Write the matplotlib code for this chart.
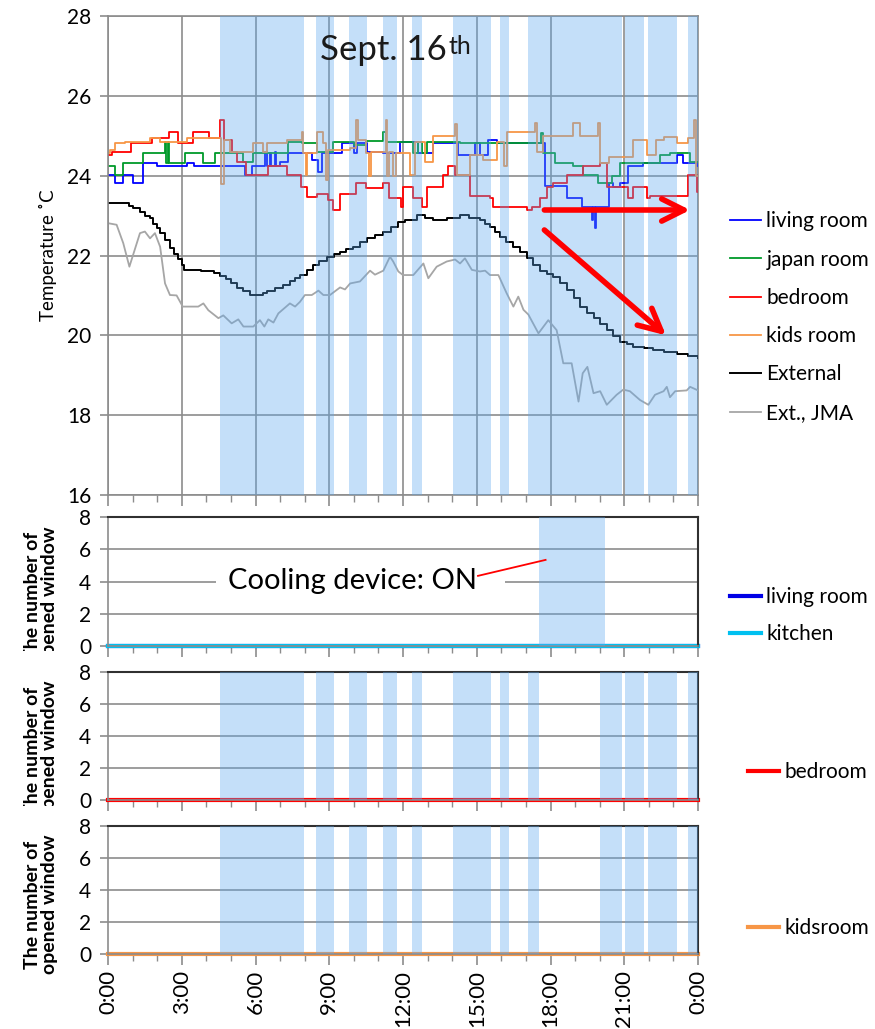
import matplotlib
matplotlib.use('Agg')
import matplotlib.pyplot as plt
from matplotlib.transforms import Bbox, TransformedBbox
from matplotlib.ticker import MultipleLocator
from matplotlib.patches import Rectangle

plt.rcParams['font.family'] = ['Lato', 'DejaVu Sans']

# ---------------- data (hours since 0:00, values) ----------------
living_t = [0, 0.29, 0.62, 1.03, 1.44, 1.98, 3.2, 3.5, 5.57, 5.84, 6.39, 6.45, 6.6, 6.65, 6.8, 6.85, 7.0, 7.34,
            8.3, 8.56, 8.7, 9.5, 10.0, 10.12, 10.52, 11.2, 11.88, 12.63, 13.24, 14.25, 14.93, 15.13, 15.47,
            15.81, 17.78, 18.66, 19.27, 19.68, 19.72, 19.8, 19.86, 20.36, 20.56, 20.83, 21.17, 21.78, 23.13,
            23.4, 23.95, 24.0]
living_v = [24.02, 23.81, 24.02, 23.81, 24.31, 24.23, 24.31, 24.23, 24.02, 24.23, 24.6, 24.23, 24.56, 24.23, 24.6,
            24.23, 24.35, 24.56, 24.4, 24.1, 24.56, 24.81, 24.56, 24.81, 24.6, 24.56, 24.85, 24.56, 24.81, 24.52,
            24.81, 24.52, 24.89, 24.81, 23.75, 23.43, 23.22, 22.9, 23.22, 22.7, 23.22, 23.81, 23.72, 23.81, 24.23,
            24.31, 24.52, 24.31, 24.23, 24.23]

japan_t = [0, 0.3, 0.6, 1.44, 2.3, 2.35, 2.45, 2.5, 3.13, 3.88, 4.35, 5.51, 5.91, 7.34, 7.88, 8.5, 9.17, 10.0,
           10.5, 11.2, 11.3, 12.42, 12.63, 12.76, 12.96, 14.3, 17.6, 17.71, 18.19, 18.93, 19.34, 19.95, 20.5,
           20.83, 22.45, 22.86, 23.68, 24.0]
japan_v = [24.23, 24.02, 24.31, 24.56, 24.85, 24.31, 24.85, 24.31, 24.56, 24.31, 24.56, 24.35, 24.56, 24.85, 24.81,
           24.6, 24.85, 24.78, 24.88, 25.1, 24.85, 24.56, 24.85, 24.56, 24.85, 24.81, 25.08, 24.56, 24.31, 24.23,
           24.02, 23.81, 24.0, 24.31, 24.52, 24.56, 24.35, 24.35]

bed_t = [0, 0.15, 0.95, 1.8, 2.5, 2.85, 3.45, 4.1, 4.55, 4.7, 5.05, 5.25, 5.6, 6.5, 7.3, 7.85, 8.1, 8.5, 8.95,
         9.15, 9.45, 10.1, 10.5, 11.2, 11.45, 11.9, 12.02, 12.42, 12.76, 12.96, 13.64, 13.84, 14.12, 14.73,
         15.54, 15.67, 17.03, 17.24, 17.57, 17.85, 18.12, 18.66, 19.34, 20.02, 20.29, 21.17, 21.37, 21.91,
         22.05, 23.61, 23.95, 24.0]
bed_v = [24.52, 24.6, 24.81, 24.94, 25.1, 24.81, 25.1, 24.94, 25.39, 24.89, 24.6, 24.35, 24.02, 24.23, 24.02,
         23.72, 23.47, 23.55, 23.39, 23.14, 23.55, 23.81, 23.68, 23.81, 23.43, 23.22, 23.72, 23.43, 23.22, 23.72,
         24.02, 24.23, 24.02, 23.49, 23.43, 23.22, 23.14, 23.22, 23.43, 23.72, 23.81, 24.02, 24.23, 24.31, 23.72,
         23.43, 23.72, 23.43, 23.49, 24.02, 23.6, 23.6]

kids_t = [0, 0.08, 0.3, 0.7, 1.7, 2.1, 3.2, 4.6, 4.7, 4.95, 5.9, 6.3, 6.45, 7.3, 7.9, 7.95, 8.05, 8.1, 8.5,
          8.75, 8.85, 8.95, 9.85, 10.1, 10.15, 10.5, 10.6, 10.7, 11.3, 11.35, 11.45, 11.6, 11.7, 12.3, 12.5,
          12.9, 13.24, 14.1, 14.18, 14.73, 15.27, 15.81, 16.1, 16.22, 17.37, 17.45, 17.71, 18.93, 19.2, 19.95,
          20.02, 20.36, 21.37, 21.91, 22.3, 22.6, 23.13, 23.61, 23.85, 23.9, 24.0]
kids_v = [24.56, 24.64, 24.81, 24.85, 24.94, 24.85, 24.94, 23.8, 24.89, 24.6, 24.81, 24.6, 24.81, 24.89, 25.1,
          24.56, 24.02, 24.56, 25.1, 24.81, 23.9, 24.64, 24.7, 25.39, 24.89, 24.56, 24.0, 24.6, 25.39, 24.0, 24.6,
          24.0, 24.56, 24.02, 24.85, 24.35, 25.0, 25.3, 24.02, 24.52, 24.4, 24.85, 24.23, 25.1, 25.31, 24.6, 25.0,
          25.31, 25.0, 25.31, 24.31, 24.48, 24.89, 24.52, 24.89, 24.98, 24.81, 24.95, 25.39, 24.0, 24.0]

ext_t = [0, 0.7, 0.85, 1.03, 1.3, 1.5, 1.71, 1.85, 2.0, 2.12, 2.3, 2.52, 2.7, 2.85, 3.0, 3.1, 3.8, 4.3, 4.56,
         4.8, 5.0, 5.23, 5.5, 5.78, 6.12, 6.3, 6.45, 6.8, 7.13, 7.4, 7.6, 7.81, 8.1, 8.35, 8.6, 8.9, 9.2, 9.44,
         9.7, 9.98, 10.25, 10.52, 10.85, 11.2, 11.5, 11.81, 12.1, 12.56, 12.9, 13.24, 13.8, 14.32, 14.7, 15.13,
         15.35, 15.54, 15.75, 15.95, 16.2, 16.49, 16.75, 17.03, 17.3, 17.57, 17.85, 18.12, 18.4, 18.66, 18.95,
         19.2, 19.5, 19.75, 20.0, 20.29, 20.55, 20.83, 21.1, 21.37, 21.8, 22.18, 22.6, 23.13, 23.6, 24.0]
ext_v = [23.31, 23.31, 23.25, 23.18, 23.1, 23.0, 22.94, 22.8, 22.68, 22.56, 22.4, 22.19, 22.05, 21.9, 21.76, 21.64,
         21.6, 21.55, 21.49, 21.4, 21.3, 21.19, 21.1, 21.01, 21.0, 21.06, 21.12, 21.18, 21.26, 21.35, 21.43, 21.51,
         21.64, 21.76, 21.85, 21.97, 22.05, 22.1, 22.17, 22.22, 22.33, 22.43, 22.52, 22.6, 22.72, 22.85, 22.89,
         23.01, 22.95, 22.89, 22.93, 23.01, 22.95, 22.89, 22.8, 22.72, 22.6, 22.47, 22.35, 22.22, 22.08, 21.93,
         21.76, 21.6, 21.53, 21.47, 21.3, 21.14, 20.93, 20.72, 20.57, 20.43, 20.28, 20.13, 19.98, 19.84, 19.78,
         19.72, 19.68, 19.63, 19.58, 19.53, 19.47, 19.42]

jma_t = [0, 0.35, 0.62, 0.87, 1.3, 1.5, 1.71, 1.91, 2.12, 2.32, 2.52, 2.79, 3.04, 3.67, 3.88, 4.08, 4.49, 4.69,
         5.03, 5.3, 5.51, 5.91, 6.18, 6.36, 6.52, 6.73, 6.93, 7.4, 7.61, 7.81, 8.01, 8.29, 8.56, 8.76, 9.03, 9.44,
         9.64, 9.85, 10.25, 10.66, 10.86, 11.2, 11.47, 11.6, 11.81, 12.0, 12.42, 12.83, 13.03, 13.37, 13.78,
         14.12, 14.32, 14.52, 14.8, 15.13, 15.34, 15.54, 15.88, 16.22, 16.49, 16.69, 16.9, 17.1, 17.51, 17.91,
         18.25, 18.52, 18.86, 19.14, 19.31, 19.5, 19.75, 20.02, 20.29, 20.69, 20.96, 21.23, 21.64, 21.98, 22.25,
         22.6, 22.73, 22.86, 23.07, 23.54, 23.68, 24.0]
jma_v = [22.81, 22.77, 22.31, 21.72, 22.56, 22.6, 22.43, 22.56, 22.22, 21.3, 21.01, 21.0, 20.72, 20.72, 20.8, 20.63,
         20.43, 20.5, 20.3, 20.4, 20.22, 20.22, 20.38, 20.22, 20.4, 20.32, 20.55, 20.8, 20.72, 20.84, 21.01, 21.01,
         21.12, 21.01, 21.01, 21.2, 21.15, 21.3, 21.35, 21.62, 21.52, 21.62, 21.97, 21.85, 21.6, 21.51, 21.51, 21.8,
         21.43, 21.72, 21.85, 21.9, 21.8, 21.93, 21.64, 21.6, 21.62, 21.51, 21.51, 21.05, 20.72, 20.97, 20.64,
         20.52, 20.05, 20.38, 20.13, 19.3, 19.3, 18.34, 19.05, 19.21, 18.55, 18.6, 18.26, 18.51, 18.64, 18.6,
         18.38, 18.26, 18.51, 18.6, 18.71, 18.45, 18.6, 18.62, 18.71, 18.62]

# shaded periods (hours)
open_start = [4.55, 8.45, 9.8, 11.17, 12.35, 14.05, 15.93, 17.1, 20.03, 21.05, 21.98, 23.6]
open_end = [7.97, 9.19, 10.53, 11.75, 12.76, 15.56, 16.33, 17.52, 20.92, 21.79, 23.13, 24.0]
cooling_start = [17.52]
cooling_end = [20.2]

# window counts (all zero)
win_t = [0, 24]
win_living = [0, 0]
win_kitchen = [0, 0]
win_bedroom = [0, 0]
win_kids = [0, 0]

hour_labels = ['0:00', '3:00', '6:00', '9:00', '12:00', '15:00', '18:00', '21:00', '0:00']

# ---------------- styling ----------------
W, H = 875, 1029
fig = plt.figure(figsize=(W / 100, H / 100), dpi=100)


def frame(l, t, r, b):
    return [l / W, 1 - b / H, (r - l) / W, (b - t) / H]


GRID = '#8c8c8c'
SHADE = '#5ca8f0'
SHADE_A = 0.36
TICK_FS = 15


def merge(starts, ends):
    iv = sorted(zip(starts, ends))
    out = []
    for s, e in iv:
        if out and s <= out[-1][1] + 1e-9:
            out[-1][1] = max(out[-1][1], e)
        else:
            out.append([s, e])
    return out


def xaxis_setup(a, labels):
    a.set_xlim(0, 24)
    a.xaxis.set_major_locator(MultipleLocator(3))
    a.xaxis.set_minor_locator(MultipleLocator(1))
    a.tick_params(axis='x', which='major', length=8, width=1.2, color=GRID, direction='out')
    a.tick_params(axis='x', which='minor', length=5, width=1.0, color=GRID, direction='out')
    if labels:
        a.set_xticks(range(0, 25, 3))
        a.set_xticklabels(hour_labels, rotation=90, fontsize=16)
    else:
        a.tick_params(axis='x', labelbottom=False)


# ---- top panel ----
ax = fig.add_axes(frame(108, 16, 698, 495))
ax.set_ylim(16, 28)
xaxis_setup(ax, False)
ax.yaxis.set_major_locator(MultipleLocator(2))
ax.tick_params(axis='y', length=6, width=1.2, color=GRID, labelsize=TICK_FS, pad=6)
ax.grid(True, which='major', color=GRID, lw=1.2)
ax.set_axisbelow(True)
for s in ['top', 'right']:
    ax.spines[s].set_visible(False)
for s in ['left', 'bottom']:
    ax.spines[s].set_color(GRID)
    ax.spines[s].set_linewidth(1.2)
ax.plot([0, 24], [28, 28], color=GRID, lw=1.2, zorder=1, clip_on=False)
ax.plot([24, 24], [16, 28], color=GRID, lw=1.2, zorder=1, clip_on=False)

l1, = ax.step(living_t, living_v, where='post', color='#0000ff', lw=1.3, label='living room', zorder=2)
l2, = ax.step(japan_t, japan_v, where='post', color='#009a2a', lw=1.3, label='japan room', zorder=2)
l3, = ax.step(bed_t, bed_v, where='post', color='#ff0000', lw=1.3, label='bedroom', zorder=2)
l4, = ax.step(kids_t, kids_v, where='post', color='#f79646', lw=1.3, label='kids room', zorder=2)
l5, = ax.step(ext_t, ext_v, where='post', color='#000000', lw=1.4, label='External', zorder=2)
l6, = ax.plot(jma_t, jma_v, color='#a6a6a6', lw=1.3, label='Ext., JMA', zorder=2)

for s, e in merge(open_start + cooling_start, open_end + cooling_end):
    ax.axvspan(s, e, color=SHADE, alpha=SHADE_A, lw=0, zorder=3)

ax.set_ylabel('Temperature \u02daC', fontsize=13.5)
ax.yaxis.set_label_coords(-0.087, 0.5)

t1 = ax.text(11.2, 27.15, 'Sept. 16', fontsize=25, ha='center', va='center', color='#1a1a1a', zorder=5)
ax.annotate('th', xy=(1, 1), xycoords=t1, xytext=(1, -1), textcoords='offset points',
            fontsize=18, ha='left', va='top', color='#1a1a1a', zorder=5)

arrow_kw = dict(arrowstyle='->,head_length=0.4,head_width=0.2', color='#ff0000', lw=4,
                mutation_scale=40, shrinkA=0, shrinkB=0)
ax.annotate('', xy=(23.68, 23.14), xytext=(17.75, 23.14), arrowprops=arrow_kw, zorder=6)
ax.annotate('', xy=(22.7, 20.0), xytext=(17.75, 22.64), arrowprops=arrow_kw, zorder=6)

fig.legend(handles=[l1, l2, l3, l4, l5, l6], loc='center left', bbox_to_anchor=(730 / W, 1 - 317 / H),
           frameon=False, fontsize=15, handlelength=1.5, handletextpad=0.25, labelspacing=0.88,
           borderpad=0, borderaxespad=0)


# ---- bottom panels ----
def window_panel(top, bottom, series, clip_px, legend_x, legend_y, lspace):
    a = fig.add_axes(frame(108, top, 698, bottom))
    a.set_ylim(0, 8)
    a.set_yticks([0, 2, 4, 6, 8])
    a.tick_params(axis='y', length=6, width=1.2, color=GRID, labelsize=TICK_FS, pad=6)
    a.grid(True, axis='y', color=GRID, lw=1.2)
    a.set_axisbelow(True)
    for s in ['top', 'right']:
        a.spines[s].set_color('#303030')
        a.spines[s].set_linewidth(1.5)
    for s in ['left', 'bottom']:
        a.spines[s].set_color(GRID)
        a.spines[s].set_linewidth(1.2)
    handles = []
    for name, vals, col in series:
        h, = a.plot(win_t, vals, color=col, lw=3, label=name, zorder=2, clip_on=False)
        handles.append(h)
    lab = a.set_ylabel('The number of\nopened window', fontsize=14, fontweight='bold', linespacing=1.0)
    a.yaxis.set_label_coords(-0.085, 0.385)
    if clip_px is not None:
        bb = TransformedBbox(Bbox([[0, 1 - clip_px[1] / H], [1, 1 - clip_px[0] / H]]), fig.transFigure)
        lab.set_clip_box(bb)
        lab.set_clip_on(True)
    fig.legend(handles=handles, loc='center left', bbox_to_anchor=(legend_x / W, 1 - legend_y / H),
               frameon=False, fontsize=15, handlelength=1.5, handletextpad=0.25, labelspacing=lspace,
               borderpad=0, borderaxespad=0)
    return a


a2 = window_panel(517, 646, [('living room', win_living, '#0000e6'), ('kitchen', win_kitchen, '#00c0f0')],
                  (504, 651), 730, 615.5, 0.8)
xaxis_setup(a2, False)
for s, e in zip(cooling_start, cooling_end):
    a2.axvspan(s, e, color=SHADE, alpha=SHADE_A, lw=0, zorder=3)
a2.add_patch(Rectangle((4.4, 3.2), 11.75, 1.6, facecolor='white', edgecolor='none', zorder=3.5))
a2.text(9.95, 4, 'Cooling device: ON', fontsize=21, ha='center', va='center', zorder=4)
a2.plot([15.05, 17.8], [4.35, 5.34], color='#ff0000', lw=1.3, zorder=5)

a3 = window_panel(672, 800, [('bedroom', win_bedroom, '#ff0000')], (658, 806), 748, 772, 0.8)
xaxis_setup(a3, False)
for s, e in zip(open_start, open_end):
    a3.axvspan(s, e, color=SHADE, alpha=SHADE_A, lw=0, zorder=3)

a4 = window_panel(826, 954, [('kidsroom', win_kids, '#f79646')], None, 748, 928, 0.8)
xaxis_setup(a4, True)
for s, e in zip(open_start, open_end):
    a4.axvspan(s, e, color=SHADE, alpha=SHADE_A, lw=0, zorder=3)

fig.savefig('out.png', dpi=100)
